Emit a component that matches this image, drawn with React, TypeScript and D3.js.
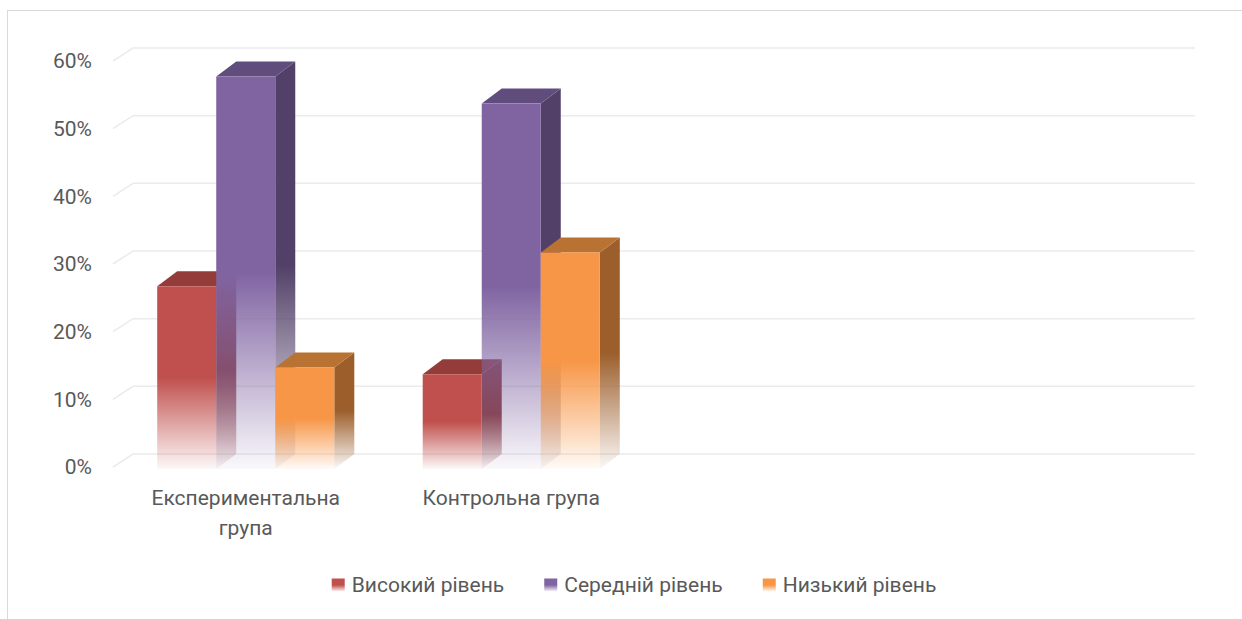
import React, { useEffect, useRef } from 'react'
import * as d3 from 'd3'

// Excel chart had 4 category rows, last two left empty
const categories = ['Експериментальна група', 'Контрольна група', '', '']
const seriesNames = ['Високий рівень', 'Середній рівень', 'Низький рівень']
const highLevel = [0.27, 0.14]
const middleLevel = [0.58, 0.54]
const lowLevel = [0.15, 0.32]
const yTicks = [0, 0.1, 0.2, 0.3, 0.4, 0.5, 0.6]

const seriesValues = [highLevel, middleLevel, lowLevel]

// front / top / side shades (fake 3D lighting)
const palette = [
  { front: '#c0504d', top: '#943c39', side: '#8a3936' },
  { front: '#8064a2', top: '#614c7e', side: '#524068' },
  { front: '#f79646', top: '#b87333', side: '#9c5f2c' },
]

const W = 1242
const H = 619
const FONT = 'Roboto, "Noto Sans", sans-serif'
const TEXT = '#595959'
const GRID = '#ebebeb'
// depth offsets for the walls and for the columns
const DX = 20
const DY = -13
const BAR_DX = 20
const BAR_DY = -15

const App = () => {
  const ref = useRef<SVGSVGElement>(null)

  useEffect(() => {
    const svg = d3.select(ref.current)
    svg.selectAll('*').remove()

    const x = d3
      .scaleBand<number>()
      .domain(d3.range(categories.length))
      .range([113, 1175])
    const y = d3.scaleLinear().domain([0, 0.6]).range([467, 61])
    // columns sit a touch lower than the front edge of the floor
    const yBar = d3.scaleLinear().domain([0, 0.6]).range([469, 63])
    const groupWidth = x.bandwidth() * 0.667
    const inner = d3
      .scaleBand<number>()
      .domain(d3.range(seriesNames.length))
      .range([-groupWidth / 2, groupWidth / 2])

    // fading gradients, solid in the upper half and almost white at the foot
    const defs = svg.append('defs')
    palette.forEach((p, i) => {
      ;(['front', 'top', 'side'] as const).forEach((face) => {
        const g = defs
          .append('linearGradient')
          .attr('id', `g-${i}-${face}`)
          .attr('x1', 0)
          .attr('y1', 0)
          .attr('x2', 0)
          .attr('y2', 1)
        g.append('stop').attr('offset', 0).attr('stop-color', p[face]).attr('stop-opacity', 1)
        g.append('stop').attr('offset', 0.5).attr('stop-color', p[face]).attr('stop-opacity', 1)
        g.append('stop').attr('offset', 1).attr('stop-color', p[face]).attr('stop-opacity', 0.04)
      })
    })

    // chart frame
    svg
      .append('rect')
      .attr('x', 7.5)
      .attr('y', 10.5)
      .attr('width', W + 20)
      .attr('height', H + 20)
      .attr('fill', 'white')
      .attr('stroke', '#d9d9d9')

    // back wall gridlines + the slanted bits on the side wall
    const grid = svg.append('g').attr('stroke', GRID).attr('stroke-width', 1.5).attr('fill', 'none')
    const [x0, x1] = x.range()
    yTicks.forEach((t) => {
      grid
        .append('path')
        .attr('d', `M${x0},${y(t)}L${x0 + DX},${y(t) + DY}L${x1 + DX},${y(t) + DY}`)
    })

    // y labels
    svg
      .append('g')
      .selectAll('text')
      .data(yTicks)
      .join('text')
      .attr('x', 92)
      .attr('y', (d) => y(d))
      .attr('dy', '0.35em')
      .attr('text-anchor', 'end')
      .attr('font-family', FONT)
      .attr('font-size', 21)
      .attr('fill', TEXT)
      .text((d) => d3.format('.0%')(d))

    // columns: side, top, front in painter's order, left to right
    const bars = svg.append('g')
    categories.forEach((cat, ci) => {
      seriesValues.forEach((vals, si) => {
        const v = vals[ci]
        if (v == null) return
        const left = x(ci)! + x.bandwidth() / 2 + inner(si)!
        const right = left + inner.bandwidth()
        const yt = yBar(v)
        const yb = yBar(0)
        bars
          .append('path')
          .attr(
            'd',
            `M${right},${yt}L${right + BAR_DX},${yt + BAR_DY}L${right + BAR_DX},${yb + BAR_DY}L${right},${yb}Z`
          )
          .attr('fill', `url(#g-${si}-side)`)
        bars
          .append('path')
          .attr(
            'd',
            `M${left},${yt}L${left + BAR_DX},${yt + BAR_DY}L${right + BAR_DX},${yt + BAR_DY}L${right},${yt}Z`
          )
          .attr('fill', palette[si].top)
        bars
          .append('rect')
          .attr('x', left)
          .attr('y', yt)
          .attr('width', right - left)
          .attr('height', yb - yt)
          .attr('fill', `url(#g-${si}-front)`)
      })
    })

    // category labels, wrapped like Excel does when they don't fit
    const catG = svg.append('g')
    categories.forEach((cat, ci) => {
      if (!cat) return
      const cx = x(ci)! + x.bandwidth() / 2
      const t = catG
        .append('text')
        .attr('text-anchor', 'middle')
        .attr('font-family', FONT)
        .attr('font-size', 21)
        .attr('fill', TEXT)
      const words = cat.split(' ')
      let line: string[] = []
      let lineNo = 0
      let tspan = t.append('tspan').attr('x', cx).attr('y', 498).attr('dy', '0.35em')
      words.forEach((w) => {
        line.push(w)
        tspan.text(line.join(' '))
        if ((tspan.node() as SVGTSpanElement).getComputedTextLength() > 230 && line.length > 1) {
          line.pop()
          tspan.text(line.join(' '))
          line = [w]
          lineNo += 1
          tspan = t
            .append('tspan')
            .attr('x', cx)
            .attr('y', 498 + lineNo * 30)
            .attr('dy', '0.35em')
            .text(w)
        }
      })
    })

    // legend, centred under the plot
    const legend = svg.append('g')
    const items = seriesNames.map((name, i) => {
      const g = legend.append('g')
      g.append('rect')
        .attr('width', 13)
        .attr('height', 13)
        .attr('y', -6.5)
        .attr('fill', `url(#g-${i}-front)`)
      const txt = g
        .append('text')
        .attr('x', 20)
        .attr('dy', '0.35em')
        .attr('font-family', FONT)
        .attr('font-size', 21)
        .attr('fill', TEXT)
        .text(name)
      const w = 20 + (txt.node() as SVGTextElement).getComputedTextLength()
      return { g, w }
    })
    const gap = 40
    const total = d3.sum(items, (d) => d.w) + gap * (items.length - 1)
    let cur = 634 - total / 2
    items.forEach(({ g, w }) => {
      g.attr('transform', `translate(${cur},585)`)
      cur += w + gap
    })
  }, [])

  return (
    <svg
      ref={ref}
      width={W}
      height={H}
      style={{ position: 'absolute', left: 0, top: 0, display: 'block' }}
    />
  )
}

export default App
